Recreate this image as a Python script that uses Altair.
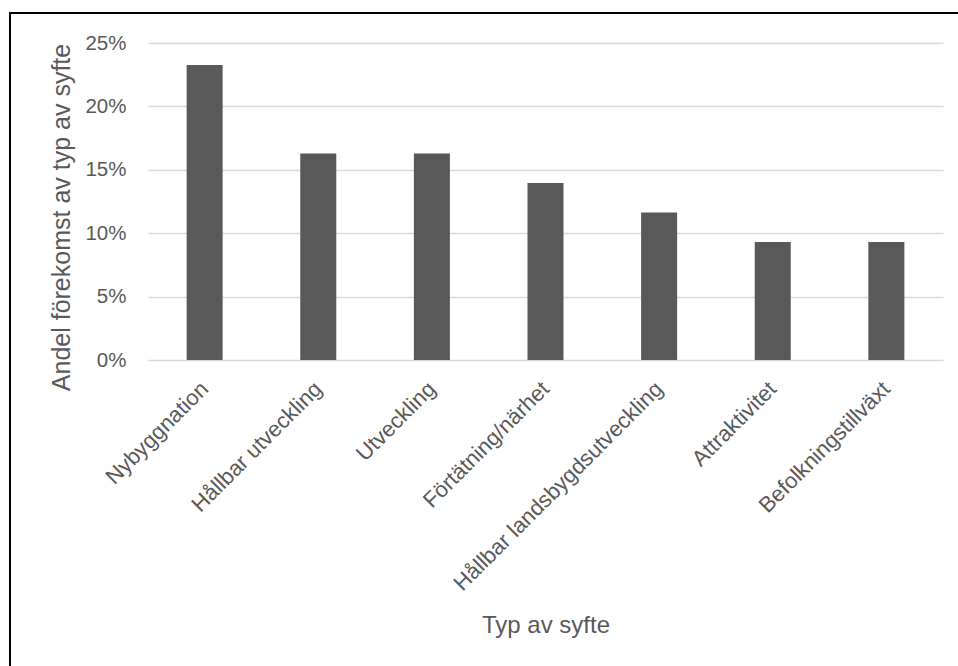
import altair as alt
import pandas as pd

categories = ["Nybyggnation", "Hållbar utveckling", "Utveckling", "Förtätning/närhet",
              "Hållbar landsbygdsutveckling", "Attraktivitet", "Befolkningstillväxt"]
shares = [0.2326, 0.1628, 0.1628, 0.1395, 0.1163, 0.0930, 0.0930]
y_ticks = [0, 0.05, 0.10, 0.15, 0.20, 0.25]

df = pd.DataFrame({"syfte": categories, "andel": shares})

FONT = "Liberation Sans"
GREY = "#595959"

bars = alt.Chart(df).mark_bar(color=GREY).encode(
    x=alt.X("syfte:N", sort=categories,
            scale=alt.Scale(paddingInner=0.683, paddingOuter=0.34),
            axis=alt.Axis(title="Typ av syfte", labelAngle=-45, labelAlign="right",
                          labelBaseline="middle", labelPadding=25, labelLimit=400,
                          labelFontSize=22, ticks=False, titleFontSize=24,
                          domain=False, titleY=265, titleBaseline="middle")),
    y=alt.Y("andel:Q", scale=alt.Scale(domain=[0, 0.25], nice=False),
            axis=alt.Axis(title="Andel förekomst av typ av syfte", format=".0%",
                          values=y_ticks, ticks=False, domain=False, labelPadding=22,
                          labelFontSize=20.5, titleFontSize=25,
                          titleX=-87, titleY=174, titleBaseline="middle",
                          gridColor="#d9d9d9", gridWidth=1.5)),
)

frame = alt.Data(values=[{"k": 1}])
left_edge = alt.Chart(frame).mark_rule(color="black", strokeWidth=2, clip=False).encode(
    x=alt.value(-138), y=alt.value(-30), y2=alt.value(630))
top_edge = alt.Chart(frame).mark_rule(color="black", strokeWidth=2, clip=False).encode(
    x=alt.value(-139), x2=alt.value(815), y=alt.value(-30))

chart = alt.layer(bars, left_edge, top_edge).properties(
    width=795, height=317,
    background="white",
    autosize=alt.AutoSizeParams(type="none"),
    padding={"left": 148, "top": 43, "right": 15, "bottom": 306},
).configure_view(stroke=None).configure_axis(
    labelFont=FONT, titleFont=FONT, labelColor=GREY, titleColor=GREY,
    titleFontWeight="normal",
)

chart.save("out.html", embed_options={"renderer": "svg", "actions": False})
